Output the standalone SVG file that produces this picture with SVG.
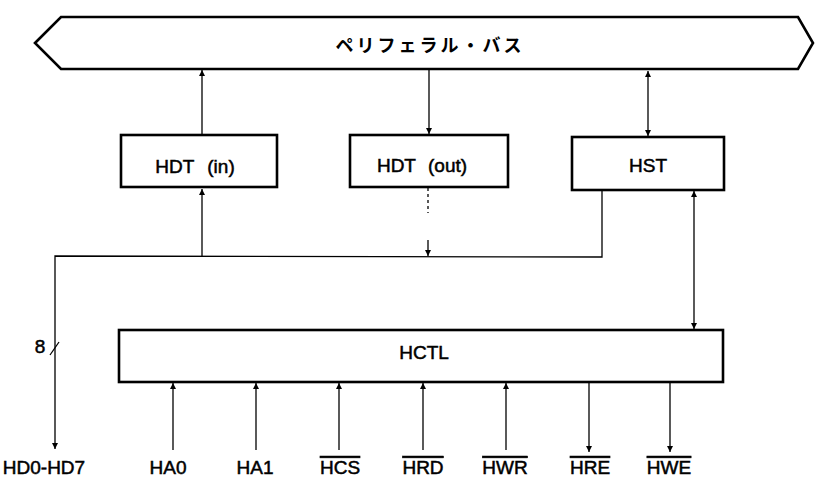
<svg xmlns="http://www.w3.org/2000/svg" width="815" height="479" viewBox="0 0 815 479">
<defs>
<marker id="ah" viewBox="0 0 10 10" refX="10" refY="5" markerWidth="10" markerHeight="6" markerUnits="userSpaceOnUse" orient="auto-start-reverse">
<path d="M0,0 L10,5 L0,10 Z" fill="#000"/>
</marker>
</defs>
<style>
.box{fill:#fff;stroke:#000;stroke-width:2.6}
.t{font-family:"Liberation Sans",Arial,sans-serif;font-size:19px;fill:#000;stroke:#000;stroke-width:0.5;text-anchor:middle}
.jp{font-family:"Noto Sans CJK JP","Noto Sans CJK SC",sans-serif;font-size:18px;font-weight:bold;fill:#000;text-anchor:middle;letter-spacing:3px}
.c{fill:none;stroke:#000;stroke-width:1.3}
.ol{text-decoration:overline}
</style>
<rect width="815" height="479" fill="#fff"/>
<g id="bus">
<polygon class="box" points="35,43 61,17 798,17 813,43 798,69 61,69"/>
<text class="jp" x="430" y="52">ペリフェラル・バス</text>
</g>
<g id="hdt-in">
<rect class="box" x="121" y="135" width="156" height="52"/>
<text class="t" x="195" y="173">HDT<tspan dx="13">(in)</tspan></text>
</g>
<g id="hdt-out">
<rect class="box" x="350" y="135" width="158" height="52"/>
<text class="t" x="422" y="172">HDT<tspan dx="12">(out)</tspan></text>
</g>
<g id="hst">
<rect class="box" x="572" y="137" width="152" height="53"/>
<text class="t" x="648" y="172">HST</text>
</g>
<g id="hctl">
<rect class="box" x="119" y="330" width="604" height="52"/>
<text class="t" x="424" y="359">HCTL</text>
</g>
<g id="connectors">
<line class="c" x1="202" y1="135" x2="202" y2="70" marker-end="url(#ah)"/>
<line class="c" x1="429" y1="70" x2="429" y2="134" marker-end="url(#ah)"/>
<line class="c" x1="648" y1="71" x2="648" y2="136" marker-start="url(#ah)" marker-end="url(#ah)"/>
<line class="c" x1="202" y1="256" x2="202" y2="189" marker-end="url(#ah)"/>
<path class="c" d="M602,190 L602,257 L55,256 L55,449" marker-end="url(#ah)"/>
<line class="c" x1="428" y1="188" x2="428" y2="213" stroke-dasharray="3,3"/>
<line class="c" x1="428" y1="240" x2="428" y2="256" marker-end="url(#ah)"/>
<line class="c" x1="694" y1="191" x2="694" y2="329" marker-start="url(#ah)" marker-end="url(#ah)"/>
<line class="c" x1="173" y1="450" x2="173" y2="383" marker-end="url(#ah)"/>
<line class="c" x1="256" y1="450" x2="256" y2="383" marker-end="url(#ah)"/>
<line class="c" x1="339" y1="450" x2="339" y2="383" marker-end="url(#ah)"/>
<line class="c" x1="423" y1="450" x2="423" y2="383" marker-end="url(#ah)"/>
<line class="c" x1="506" y1="450" x2="506" y2="383" marker-end="url(#ah)"/>
<line class="c" x1="589" y1="383" x2="589" y2="452" marker-end="url(#ah)"/>
<line class="c" x1="670" y1="383" x2="670" y2="452" marker-end="url(#ah)"/>
<line class="c" x1="50" y1="355" x2="59" y2="342"/>
</g>
<g id="labels">
<text class="t" x="40" y="353">8</text>
<text class="t" x="44" y="474">HD0-HD7</text>
<text class="t" x="168" y="474">HA0</text>
<text class="t" x="255" y="474">HA1</text>
<text class="t ol" x="340" y="474">HCS</text>
<text class="t ol" x="423" y="474">HRD</text>
<text class="t ol" x="505" y="474">HWR</text>
<text class="t ol" x="590" y="474">HRE</text>
<text class="t ol" x="669" y="474">HWE</text>
</g>
</svg>
